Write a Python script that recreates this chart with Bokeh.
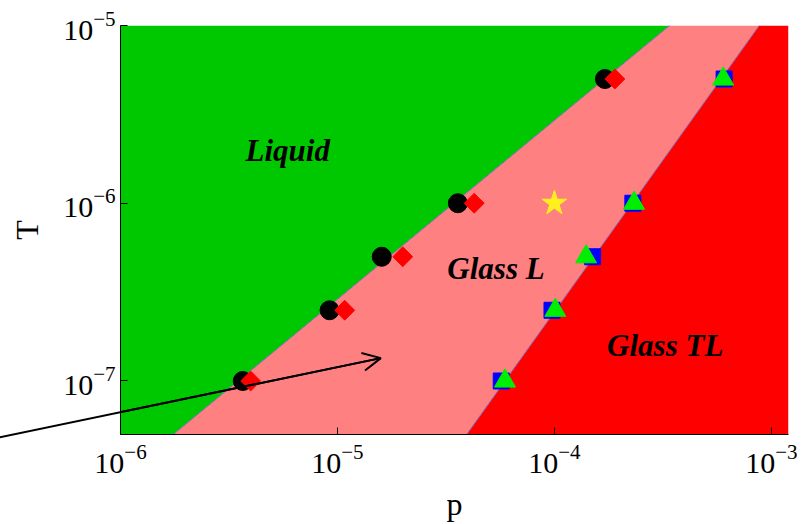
from bokeh.plotting import figure
from bokeh.models import Range1d, FixedTicker, Label, Arrow, OpenHead
from bokeh.embed import file_html
from bokeh.resources import INLINE
import math

# Axis limits
p_min, p_max = 1e-6, 1.2e-3
T_min, T_max = 5e-8, 1e-5

# Phase boundaries: p at the bottom (T_min) and at the top (T_max) of the frame
liquid_glass_p = [1.75e-6, 3.4e-4]
glass_tl_p = [3.94e-5, 8.8e-4]

# Measured transition points
T_points = [1e-7, 2.5e-7, 5e-7, 1e-6, 5e-6]
p_circle = [3.66e-6, 9.2e-6, 1.60e-5, 3.59e-5, 1.71e-4]
p_diamond = [3.98e-6, 1.08e-5, 2.0e-5, 4.27e-5, 1.90e-4]
p_square = [5.69e-5, 9.75e-5, 1.50e-4, 2.30e-4, 6.06e-4]
p_triangle = [5.92e-5, 1.01e-4, 1.40e-4, 2.33e-4, 6.0e-4]

# Highlighted state
star_p = [1e-4]
star_T = [1e-6]

# Arrow (tail lies outside the axes)
arrow_tail = (2.4e-7, 4.65e-8)
arrow_tip = (1.585e-5, 1.345e-7)

x_ticks = [1e-6, 1e-5, 1e-4, 1e-3]
y_ticks = [1e-7, 1e-6, 1e-5]

SERIF = "Liberation Serif"

p = figure(width=806, height=524, x_axis_type="log", y_axis_type="log",
           x_range=Range1d(p_min, p_max), y_range=Range1d(T_min, T_max),
           output_backend="svg", toolbar_location=None,
           min_border_left=120, min_border_right=18,
           min_border_top=25, min_border_bottom=89)
p.outline_line_color = None
p.grid.visible = False
p.background_fill_color = "white"

# Phase regions
liquid_x = [p_min, liquid_glass_p[0], liquid_glass_p[1], p_min]
liquid_y = [T_min, T_min, T_max, T_max]
glassL_x = [liquid_glass_p[0], glass_tl_p[0], glass_tl_p[1], liquid_glass_p[1]]
glassL_y = [T_min, T_min, T_max, T_max]
glassTL_x = [glass_tl_p[0], p_max, p_max, glass_tl_p[1]]
glassTL_y = [T_min, T_min, T_max, T_max]

p.patch(liquid_x, liquid_y, fill_color="#00c800", line_color=None)
p.patch(glassL_x, glassL_y, fill_color="#ff8080", line_color=None)
p.patch(glassTL_x, glassTL_y, fill_color="#ff0000", line_color=None)
p.line(liquid_glass_p, [T_min, T_max], line_color="#7a6cb8", line_width=1)
p.line(glass_tl_p, [T_min, T_max], line_color="#7a6cb8", line_width=1)

# Markers
p.scatter(p_circle, T_points, marker="circle", size=19, fill_color="black", line_color="black")
p.scatter(p_diamond, T_points, marker="square", angle=math.pi / 4, size=14,
          fill_color="#ff0000", line_color="#ff0000")
p.scatter(p_square, T_points, marker="square", size=16, fill_color="#0000ff", line_color="#0000ff")
p.scatter(p_triangle, T_points, marker="triangle", size=21, fill_color="#00ee00", line_color="#00ee00")
p.scatter(star_p, star_T, marker="star", size=26, fill_color="#fff01e", line_color="#fff01e")

# Region names
for txt, x, y in [("Liquid", 3.77e-6, 1.99e-6),
                  ("Glass L", 3.21e-5, 4.31e-7),
                  ("Glass TL", 1.75e-4, 1.59e-7)]:
    p.add_layout(Label(x=x, y=y, text=txt, text_font=SERIF, text_font_style="bold italic",
                       text_font_size="31px", text_color="black", text_baseline="alphabetic"))

# Arrow: the shaft runs past the frame, so it sits on the unclipped overlay level;
# the Arrow annotation supplies the open head.
p.line([arrow_tail[0], arrow_tip[0]], [arrow_tail[1], arrow_tip[1]],
       line_color="black", line_width=2, level="overlay")
p.add_layout(Arrow(x_start=arrow_tail[0], y_start=arrow_tail[1],
                   x_end=arrow_tip[0], y_end=arrow_tip[1],
                   line_color="black", line_width=2,
                   end=OpenHead(size=18, line_color="black", line_width=2)))

# Axes
p.xaxis.ticker = FixedTicker(ticks=x_ticks, minor_ticks=[])
p.yaxis.ticker = FixedTicker(ticks=y_ticks, minor_ticks=[])
for ax in (p.xaxis, p.yaxis):
    ax.axis_line_color = "black"
    ax.axis_line_width = 1
    ax.major_tick_in = 7
    ax.major_tick_out = 0
    ax.minor_tick_line_color = None
    ax.major_label_text_font = SERIF
    ax.major_label_text_font_size = "30px"
    ax.major_label_text_color = "black"
    ax.axis_label_text_font = SERIF
    ax.axis_label_text_font_size = "32px"
    ax.axis_label_text_font_style = "normal"
    ax.axis_label_text_color = "black"

p.xaxis.axis_label = "p"
p.yaxis.axis_label = "T"
p.xaxis.major_label_standoff = 10
p.yaxis.major_label_standoff = 5
p.xaxis.axis_label_standoff = 10
p.yaxis.axis_label_standoff = 15

open("out.html", "w").write(file_html(p, INLINE))
